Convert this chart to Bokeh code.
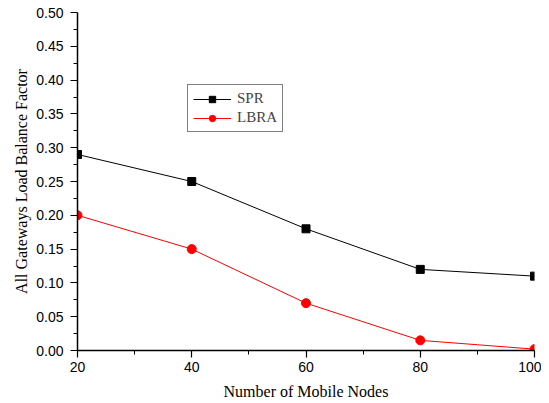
from bokeh.plotting import figure
from bokeh.models import Range1d, FixedTicker, Legend, LegendItem, PrintfTickFormatter
from bokeh.embed import file_html
from bokeh.resources import INLINE

nodes = [20, 40, 60, 80, 100]
spr = [0.29, 0.25, 0.18, 0.12, 0.11]
lbra = [0.20, 0.15, 0.07, 0.015, 0.002]
x_ticks = [20, 40, 60, 80, 100]
x_minor = [30, 50, 70, 90]
y_ticks = [0.0, 0.05, 0.10, 0.15, 0.20, 0.25, 0.30, 0.35, 0.40, 0.45, 0.50]
y_minor = [0.025, 0.075, 0.125, 0.175, 0.225, 0.275, 0.325, 0.375, 0.425, 0.475]

p = figure(width=541, height=403, output_backend="svg", toolbar_location=None,
           x_range=Range1d(20, 100), y_range=Range1d(0, 0.5),
           min_border_left=77, min_border_right=7, min_border_top=12, min_border_bottom=53)
p.outline_line_color = None
p.xgrid.grid_line_color = None
p.ygrid.grid_line_color = None
p.background_fill_color = "white"
p.border_fill_color = "white"

p.xaxis.ticker = FixedTicker(ticks=x_ticks, minor_ticks=x_minor)
p.yaxis.ticker = FixedTicker(ticks=y_ticks, minor_ticks=y_minor)
p.yaxis.formatter = PrintfTickFormatter(format="%.2f")

for ax in (p.xaxis, p.yaxis):
    ax.axis_line_color = "black"
    ax.axis_line_width = 1.5
    ax.major_tick_line_color = "black"
    ax.minor_tick_line_color = "black"
    ax.major_tick_line_width = 1.2
    ax.major_tick_out = 7
    ax.major_tick_in = 0
    ax.minor_tick_out = 4
    ax.minor_tick_in = 0
    ax.major_label_text_font = "Liberation Sans"
    ax.major_label_text_font_size = "14px"
    ax.major_label_text_color = "black"
    ax.axis_label_text_font = "Liberation Serif"
    ax.axis_label_text_font_size = "16px"
    ax.axis_label_text_font_style = "normal"
    ax.axis_label_text_color = "black"

p.yaxis.major_label_standoff = 7
p.xaxis.major_label_standoff = 4
p.xaxis.axis_label = "Number of Mobile Nodes"
p.yaxis.axis_label = "All Gateways Load Balance Factor"
p.xaxis.axis_label_standoff = 8
p.yaxis.axis_label_standoff = 3

l1 = p.line(nodes, spr, line_color="black", line_width=1)
m1 = p.scatter(nodes, spr, marker="square", size=8, fill_color="black", line_color="black")
l2 = p.line(nodes, lbra, line_color="red", line_width=1)
m2 = p.scatter(nodes, lbra, marker="circle", size=9, fill_color="red", line_color="red")

legend = Legend(items=[LegendItem(label="SPR", renderers=[l1, m1]),
                       LegendItem(label="LBRA", renderers=[l2, m2])],
                location=(110, 218))
legend.label_text_font = "Liberation Serif"
legend.label_text_font_size = "15px"
legend.border_line_color = "black"
legend.border_line_width = 1
legend.glyph_width = 38
legend.glyph_height = 16
legend.label_height = 16
legend.spacing = 2
legend.padding = 5
legend.margin = 0
legend.label_standoff = 6
legend.background_fill_alpha = 1
p.add_layout(legend, "center")

open("out.html", "w").write(file_html(p, INLINE))
